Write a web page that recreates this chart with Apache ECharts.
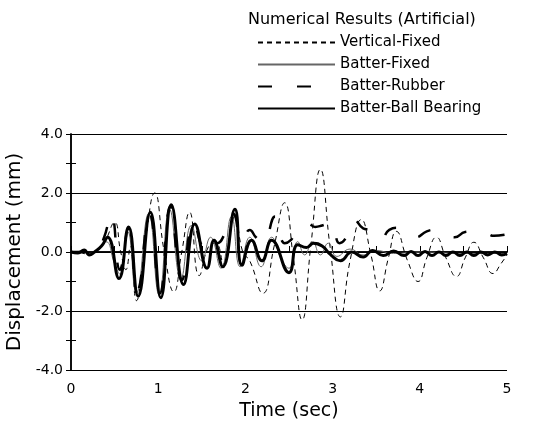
<!DOCTYPE html>
<html>
<head>
<meta charset="utf-8">
<script src="https://cdn.jsdelivr.net/npm/echarts@6/dist/echarts.min.js"></script>
<style>
html, body { margin: 0; padding: 0; background: #fff; }
#chart { width: 559px; height: 430px; }
</style>
</head>
<body>
<div id="chart"></div>
<script>
// time (sec) / displacement (mm)
const verticalFixed = [
  [0, 0], [0.1, 0.0], [0.2, -0.05], [0.3, 0.05], [0.38, 0.3], [0.5, 1.0], [0.57, 0.0],
  [0.63, -0.6], [0.68, 0.2], [0.75, -1.65], [0.85, 0.3], [0.96, 2.0], [1.07, 0.0],
  [1.18, -1.35], [1.27, 0.0], [1.36, 1.35], [1.47, -0.8], [1.58, 0.2], [1.66, 0.3],
  [1.75, -0.4], [1.88, 1.2], [1.97, 0.0], [2.05, -0.3], [2.2, -1.4], [2.33, 0.2],
  [2.45, 1.67], [2.55, -0.2], [2.65, -2.3], [2.75, 0.2], [2.86, 2.8], [2.97, 0.2],
  [3.09, -2.2], [3.2, -0.3], [3.33, 1.1], [3.44, -0.1], [3.54, -1.32], [3.64, -0.2],
  [3.73, 0.7], [3.86, -0.3], [3.98, -1.0], [4.08, -0.2], [4.19, 0.5], [4.3, -0.2],
  [4.42, -0.83], [4.52, -0.2], [4.62, 0.33], [4.73, -0.2], [4.84, -0.73], [4.93, -0.4],
  [5.0, -0.1]
];
const batterFixed = [
  [0, 0], [0.1, 0.02], [0.2, -0.05], [0.3, 0.05], [0.4, 0.35], [0.5, -0.4], [0.56, -0.75],
  [0.65, 0.7], [0.75, -1.4], [0.89, 1.3], [1.01, -1.45], [1.13, 1.45], [1.26, -0.9],
  [1.38, 0.9], [1.5, -0.3], [1.6, 0.5], [1.72, -0.55], [1.84, 1.2], [1.94, -0.5],
  [2.05, 0.5], [2.18, -0.5], [2.3, 0.5], [2.42, -0.3], [2.5, -0.55], [2.6, 0.35],
  [2.68, -0.1], [2.77, 0.35], [2.86, -0.1], [2.95, 0.3], [3.05, -0.15], [3.2, 0.1],
  [3.35, -0.1], [3.5, 0.05], [3.7, -0.05], [4.0, 0.0], [4.5, -0.05], [5.0, -0.05]
];
const batterRubber = [
  [0, 0], [0.1, 0.0], [0.2, -0.05], [0.3, 0.05], [0.38, 0.5], [0.46, 1.3], [0.56, -0.6],
  [0.66, 0.8], [0.76, -1.3], [0.9, 1.3], [1.02, -1.4], [1.14, 1.55], [1.27, -0.95],
  [1.41, 1.0], [1.52, 0.2], [1.6, 0.6], [1.68, 0.3], [1.76, 0.6], [1.86, 1.3],
  [1.96, 0.4], [2.05, 0.75], [2.12, 0.5], [2.2, 0.3], [2.34, 1.2], [2.45, 0.3],
  [2.52, 0.4], [2.58, 0.7], [2.72, 0.95], [2.8, 0.85], [2.88, 0.9], [2.98, 1.0],
  [3.08, 0.3], [3.18, 0.6], [3.25, 1.1], [3.35, 0.8], [3.43, 0.75], [3.55, 0.4],
  [3.65, 0.75], [3.75, 0.82], [3.85, 0.7], [3.95, 0.5], [4.08, 0.7], [4.17, 0.75],
  [4.27, 0.65], [4.4, 0.5], [4.52, 0.68], [4.62, 0.7], [4.75, 0.66], [4.85, 0.55],
  [5.0, 0.6]
];
const batterBearing = [
  [0, 0], [0.08, -0.03], [0.15, 0.07], [0.21, -0.1], [0.27, 0.0], [0.35, 0.2], [0.42, 0.5],
  [0.55, -0.9], [0.66, 0.85], [0.77, -1.5], [0.91, 1.35], [1.03, -1.55], [1.15, 1.6],
  [1.29, -1.1], [1.42, 0.95], [1.56, -0.55], [1.64, 0.4], [1.74, -0.5], [1.88, 1.45],
  [1.96, -0.45], [2.07, 0.4], [2.19, -0.3], [2.3, 0.4], [2.5, -0.7], [2.6, 0.25],
  [2.7, 0.15], [2.78, 0.3], [2.88, 0.2], [2.98, -0.1], [3.09, -0.3], [3.22, 0.0],
  [3.35, -0.17], [3.46, 0.05], [3.58, -0.12], [3.7, 0.03], [3.82, -0.12], [3.9, 0.02],
  [3.98, -0.12], [4.06, 0.02], [4.14, -0.12], [4.22, 0.0], [4.3, -0.12], [4.38, 0.0],
  [4.46, -0.12], [4.54, 0.0], [4.62, -0.12], [4.7, 0.0], [4.78, -0.1], [4.86, 0.0],
  [4.94, -0.1], [5.0, -0.05]
];
const seriesNames = ['Vertical-Fixed', 'Batter-Fixed', 'Batter-Rubber', 'Batter-Ball Bearing'];

const font = 'DejaVu Sans';
const myChart = echarts.init(document.getElementById('chart'));

let option = {
  animation: false,
  title: {
    text: 'Numerical Results (Artificial)',
    left: 243,
    top: 7,
    textStyle: { fontFamily: font, fontSize: 16, fontWeight: 'normal', color: '#000' }
  },
  legend: {
    orient: 'vertical',
    left: 252,
    top: 30,
    itemWidth: 77,
    itemHeight: 14,
    itemGap: 7,
    data: seriesNames,
    itemStyle: { opacity: 0 },
    textStyle: { fontFamily: font, fontSize: 15, color: '#000' }
  },
  grid: { left: 71, right: 52, top: 134, bottom: 60, containLabel: false, outerBoundsMode: 'none' },
  xAxis: [
    {
      type: 'value',
      min: 0,
      max: 5,
      interval: 1,
      name: 'Time (sec)',
      nameLocation: 'middle',
      nameGap: 32,
      nameTextStyle: { fontFamily: font, fontSize: 19, color: '#000' },
      axisLine: { lineStyle: { color: '#000', width: 1.5 } },
      axisTick: { inside: true, length: 6, lineStyle: { color: '#000' } },
      minorTick: { show: true, splitNumber: 2, length: 6, lineStyle: { color: '#000' } },
      axisLabel: { fontFamily: font, fontSize: 14, color: '#000', margin: 12 },
      splitLine: { show: false }
    },
    {
      type: 'value',
      position: 'top',
      min: 0,
      max: 5,
      axisLine: { lineStyle: { color: '#000', width: 1.5 } },
      axisTick: { show: false },
      axisLabel: { show: false },
      splitLine: { show: false }
    }
  ],
  yAxis: [
    {
      type: 'value',
      min: -4,
      max: 4,
      interval: 2,
      name: 'Displacement (mm)',
      nameLocation: 'middle',
      nameGap: 36,
      nameTextStyle: { fontFamily: font, fontSize: 20, color: '#000' },
      axisLine: { show: true, lineStyle: { color: '#000', width: 1.5 } },
      axisTick: { inside: true, length: 5, lineStyle: { color: '#000' } },
      minorTick: { show: true, splitNumber: 2, length: 5, lineStyle: { color: '#000' } },
      axisLabel: {
        fontFamily: font, fontSize: 14, color: '#000', margin: 8,
        formatter: function (v) { return v.toFixed(1); }
      },
      splitLine: { show: true, lineStyle: { color: '#000', width: 1 } }
    },
    {
      type: 'value',
      position: 'right',
      min: -4,
      max: 4,
      interval: 2,
      axisLine: { show: true, lineStyle: { color: '#000', width: 1.5 } },
      axisTick: { inside: true, length: 5, lineStyle: { color: '#000' } },
      minorTick: { show: true, splitNumber: 2, length: 5, lineStyle: { color: '#000' } },
      axisLabel: { show: false },
      splitLine: { show: false }
    }
  ],
  series: [
    {
      name: seriesNames[0],
      type: 'line',
      data: verticalFixed,
      smooth: true,
      symbol: 'none',
      z: 2,
      itemStyle: { color: '#000' },
      lineStyle: { color: '#000', width: 1, type: [5, 4] }
    },
    {
      name: seriesNames[1],
      type: 'line',
      data: batterFixed,
      smooth: true,
      symbol: 'none',
      z: 3,
      itemStyle: { color: '#666' },
      lineStyle: { color: '#666', width: 1 }
    },
    {
      name: seriesNames[2],
      type: 'line',
      data: batterRubber,
      smooth: true,
      symbol: 'none',
      z: 4,
      itemStyle: { color: '#000' },
      lineStyle: { color: '#000', width: 2.5, type: [14, 25] }
    },
    {
      name: seriesNames[3],
      type: 'line',
      data: batterBearing,
      smooth: true,
      symbol: 'none',
      z: 5,
      itemStyle: { color: '#000' },
      lineStyle: { color: '#000', width: 3 }
    }
  ]
};
option && myChart.setOption(option);
</script>
</body>
</html>
